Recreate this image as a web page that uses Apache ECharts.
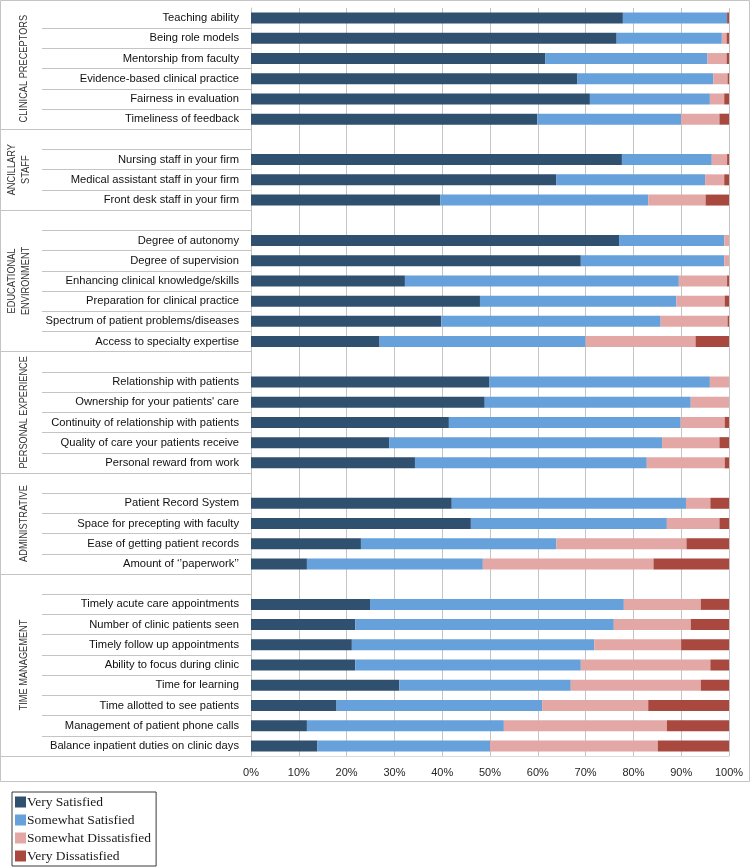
<!DOCTYPE html>
<html><head><meta charset="utf-8">
<script src="https://cdn.jsdelivr.net/npm/echarts@6/dist/echarts.min.js"></script>
<style>html,body{margin:0;padding:0;background:#fff}#c{width:753px;height:868px}</style>
</head><body><div id="c"></div>
<script>
// ---- data ----
const groupNames = ['CLINICAL PRECEPTORS', 'ANCILLARY\nSTAFF', 'EDUCATIONAL\nENVIRONMENT', 'PERSONAL EXPERIENCE', 'ADMINISTRATIVE', 'TIME MANAGEMENT'];
const groupSizes = [6, 4, 7, 6, 5, 9]; // rows per group, including the blank spacer row
const categories = [
  'Teaching ability', 'Being role models', 'Mentorship from faculty', 'Evidence-based clinical practice', 'Fairness in evaluation', 'Timeliness of feedback',
  '', 'Nursing staff in your firm', 'Medical assistant staff in your firm', 'Front desk staff in your firm',
  '', 'Degree of autonomy', 'Degree of supervision', 'Enhancing clinical knowledge/skills', 'Preparation for clinical practice', 'Spectrum of patient problems/diseases', 'Access to specialty expertise',
  '', 'Relationship with patients', "Ownership for your patients' care", 'Continuity of relationship with patients', 'Quality of care your patients receive', 'Personal reward from work',
  '', 'Patient Record System', 'Space for precepting with faculty', 'Ease of getting patient records', 'Amount of \u2018\u2019paperwork\u2019\u2019',
  '', 'Timely acute care appointments', 'Number of clinic patients seen', 'Timely follow up appointments', 'Ability to focus during clinic', 'Time for learning', 'Time allotted to see patients', 'Management of patient phone calls', 'Balance inpatient duties on clinic days'
];
const seriesNames = ['Very Satisfied', 'Somewhat Satisfied', 'Somewhat Dissatisfied', 'Very Dissatisfied'];
const verySatisfied = [77.8, 76.5, 61.6, 68.3, 70.9, 59.9, '-', 77.6, 63.9, 39.6, '-', 77.0, 69.0, 32.2, 47.9, 39.8, 26.9, '-', 49.9, 48.9, 41.4, 28.9, 34.3, '-', 42.0, 46.0, 23.0, 11.7, '-', 24.9, 21.8, 21.1, 21.8, 31.0, 17.9, 11.7, 13.9];
const somewhatSatisfied = [21.8, 22.0, 33.9, 28.4, 25.1, 30.1, '-', 18.8, 31.1, 43.5, '-', 22.0, 30.0, 57.3, 41.1, 45.9, 43.1, '-', 46.1, 43.1, 48.5, 57.1, 48.5, '-', 49.0, 41.0, 40.9, 36.8, '-', 53.1, 54.1, 50.7, 47.2, 35.9, 43.0, 41.2, 36.1];
const somewhatDissatisfied = [0, 1.0, 4.0, 3.0, 3.0, 8.0, '-', 3.2, 4.0, 12.0, '-', 1.0, 1.0, 10.1, 10.1, 14.0, 23.0, '-', 4.0, 8.0, 9.2, 12.0, 16.3, '-', 5.1, 11.0, 27.2, 35.7, '-', 16.1, 16.1, 18.2, 27.1, 27.2, 22.2, 34.1, 35.1];
const veryDissatisfied = [0.4, 0.5, 0.5, 0.3, 1.0, 2.0, '-', 0.4, 1.0, 4.9, '-', 0, 0, 0.4, 0.9, 0.3, 7.0, '-', 0, 0, 0.9, 2.0, 0.9, '-', 3.9, 2.0, 8.9, 15.8, '-', 5.9, 8.0, 10.0, 3.9, 5.9, 16.9, 13.0, 14.9];

// ---- styles ----
const colors = ['#30506F', '#66A1DB', '#E3A8A6', '#A8483F'];
const labelFont = '"Liberation Sans Narrow", "Liberation Sans", sans-serif';
const lineColor = '#c4c4c4';

// group start indices (derived)
const groupStarts = [];
groupSizes.reduce((acc, n) => { groupStarts.push(acc); return acc + n; }, 0);

const chart = echarts.init(document.getElementById('c'), null, { renderer: 'canvas' });
const values = [verySatisfied, somewhatSatisfied, somewhatDissatisfied, veryDissatisfied];

chart.setOption({
  animation: false,
  backgroundColor: '#fff',
  grid: { left: 251, right: 24, top: 8, bottom: 112, containLabel: false },
  xAxis: {
    type: 'value', min: 0, max: 100, interval: 10,
    axisLabel: { formatter: v => v + '%', color: '#262626', fontFamily: labelFont, fontSize: 11, margin: 11 },
    axisLine: { show: true, lineStyle: { color: '#d9d9d9' } },
    axisTick: { show: false },
    splitLine: { show: true, lineStyle: { color: lineColor, width: 1 } }
  },
  yAxis: [
    {
      type: 'category', inverse: true, data: categories,
      axisLine: { show: true, lineStyle: { color: lineColor } },
      axisTick: { show: true, length: 209, interval: (i) => i !== 0, lineStyle: { color: lineColor } },
      axisLabel: { color: '#111111', fontFamily: labelFont, fontSize: 11.2, margin: 12, interval: 0 },
      splitLine: { show: false }
    },
    {
      type: 'category', inverse: true, data: categories, position: 'left', offset: 0,
      axisLine: { show: false },
      axisTick: { show: true, length: 251, interval: (i) => groupStarts.indexOf(i) > 0, lineStyle: { color: lineColor } },
      axisLabel: { show: false },
      splitLine: { show: false }
    }
  ],
  legend: {
    data: seriesNames, orient: 'vertical', left: 12, top: 792,
    icon: 'rect', itemWidth: 11, itemHeight: 11, itemGap: 4,
    borderColor: '#3a3a3a', borderWidth: 1, padding: [3, 5, 3, 3],
    textStyle: { fontFamily: '"Liberation Serif", serif', fontSize: 13.5, color: '#1a1a1a', padding: [0, 0, 0, -4] }
  },
  series: seriesNames.map((name, k) => ({
    name, type: 'bar', stack: 'total', barWidth: 11, yAxisIndex: 0,
    data: values[k], itemStyle: { color: colors[k] }, emphasis: { disabled: true }
  }))
});

// group labels and chart frame, positioned via the category axis scale
const graphics = [{
  type: 'rect', silent: true,
  shape: { x: 0.5, y: 0.5, width: 749, height: 781 },
  style: { fill: 'none', stroke: lineColor, lineWidth: 1 }
}];
groupNames.forEach((g, gi) => {
  const s = groupStarts[gi];
  const e = s + groupSizes[gi] - 1;
  const y0 = chart.convertToPixel({ yAxisIndex: 0 }, s);
  const y1 = chart.convertToPixel({ yAxisIndex: 0 }, e);
  const two = g.indexOf('\n') >= 0;
  graphics.push({
    type: 'text', silent: true,
    x: two ? 18.5 : 24, y: (y0 + y1) / 2, rotation: Math.PI / 2, scaleX: 0.84,
    style: {
      text: g, fill: '#333333', font: '11px "Liberation Sans", sans-serif',
      align: 'center', verticalAlign: 'middle', lineHeight: 14
    }
  });
});
chart.setOption({ graphic: graphics });
</script>
</body></html>
